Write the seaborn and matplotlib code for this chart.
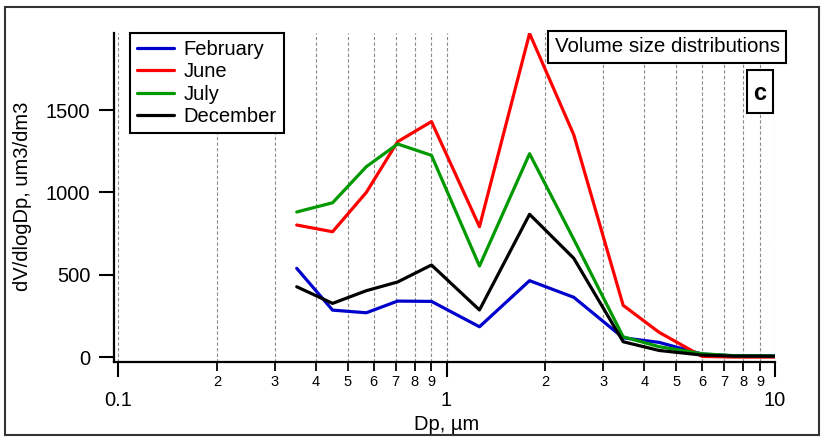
import matplotlib
matplotlib.use("Agg")
import matplotlib.pyplot as plt
from matplotlib.patches import Rectangle
import seaborn as sns
import pandas as pd

# ---- data ----
dp = [0.35, 0.45, 0.57, 0.71, 0.9, 1.26, 1.79, 2.44, 3.45, 4.44, 6.0, 7.5, 10.0]
february = [539, 285, 269, 340, 338, 184, 464, 363, 117, 89, 18, 8, 6]
june = [802, 761, 1000, 1308, 1430, 792, 1965, 1350, 314, 150, 4, 0, 0]
july = [881, 937, 1156, 1294, 1225, 553, 1235, 715, 123, 63, 20, 8, 6]
december = [427, 326, 403, 456, 559, 286, 867, 600, 93, 40, 12, 6, 5]
months = ["February", "June", "July", "December"]
colors = {"February": "#0000CC", "June": "#FF0000", "July": "#009900", "December": "#000000"}
major_ticks = [0.1, 1, 10]
major_labels = ["0.1", "1", "10"]
minor_ticks = [0.2, 0.3, 0.4, 0.5, 0.6, 0.7, 0.8, 0.9, 2, 3, 4, 5, 6, 7, 8, 9]
minor_labels = ["2", "3", "4", "5", "6", "7", "8", "9", "2", "3", "4", "5", "6", "7", "8", "9"]
y_ticks = [0, 500, 1000, 1500]

series = {"February": february, "June": june, "July": july, "December": december}
df = pd.concat([pd.DataFrame({"Dp": dp, "value": v, "month": m}) for m, v in series.items()],
               ignore_index=True)

sns.set_style("white")
plt.rcParams["font.family"] = ["Liberation Sans", "DejaVu Sans"]
plt.rcParams.update({"text.color": "black", "axes.labelcolor": "black",
                     "xtick.color": "black", "ytick.color": "black"})

W, H = 821, 438
fig = plt.figure(figsize=(W / 100, H / 100), dpi=100)
ax = fig.add_axes([114 / W, 1 - 362 / H, (775 - 114) / W, (362 - 33) / H])

sns.lineplot(data=df, x="Dp", y="value", hue="month", hue_order=months, palette=colors,
             sort=False, linewidth=2.3, ax=ax, legend=True)

ax.set_xscale("log")
ax.set_xlim(10 ** (-1 - 4 / 328.5), 10)
ax.set_ylim(-30, 1968)

ax.set_xticks(major_ticks, labels=major_labels)
ax.set_xticks(minor_ticks, labels=minor_labels, minor=True)
ax.set_yticks(y_ticks, labels=[str(t) for t in y_ticks])

ax.tick_params(axis="x", which="major", direction="out", length=11, width=1.5, pad=10,
               labelsize=14.5, bottom=True, colors="black")
ax.tick_params(axis="x", which="minor", direction="out", length=6.5, width=1.3, pad=3,
               labelsize=10.5, bottom=True, colors="black")
ax.tick_params(axis="y", which="major", direction="out", length=11, width=1.5, pad=6,
               labelsize=14.5, left=True, colors="black")

for s in ["top", "right"]:
    ax.spines[s].set_visible(False)
for s in ["left", "bottom"]:
    ax.spines[s].set_linewidth(1.6)
    ax.spines[s].set_color("black")

ax.grid(False)
ax.grid(True, which="both", axis="x", linestyle=(0, (3, 2)), color="#8a8a8a", linewidth=0.8)

ax.set_xlabel("")
ax.set_ylabel("")
fig.text(447 / W, 1 - 424 / H, "Dp, µm", ha="center", va="center", fontsize=14.5)
fig.text(22 / W, 1 - 196 / H, "dV/dlogDp, um3/dm3", ha="center", va="center",
         rotation=90, fontsize=14.5)

leg = ax.legend(loc="upper left", bbox_to_anchor=(130 / W, 1 - 33 / H),
                bbox_transform=fig.transFigure, borderaxespad=0, frameon=True,
                fancybox=False, edgecolor="black", framealpha=1, fontsize=14.5,
                handlelength=1.85, handletextpad=0.45, labelspacing=0.17, borderpad=0.35,
                title=None)
leg.get_frame().set_linewidth(1.5)
for h in leg.get_lines():
    h.set_linewidth(2.3)

# annotation boxes
def fig_box(x0, y0, x1, y1, **kw):
    r = Rectangle((x0 / W, 1 - y1 / H), (x1 - x0) / W, (y1 - y0) / H,
                  transform=fig.transFigure, **kw)
    fig.add_artist(r)

fig_box(548, 31, 786, 63, facecolor="white", edgecolor="black", linewidth=1.5, zorder=3)
fig.text(667 / W, 1 - 47 / H, "Volume size distributions", ha="center", va="center",
         fontsize=14.8, zorder=4)
fig_box(747, 70, 773, 113, facecolor="white", edgecolor="black", linewidth=1.5, zorder=3)
fig.text(760 / W, 1 - 93 / H, "c", ha="center", va="center", fontsize=17,
         fontweight="bold", zorder=4)

# outer frame
fig_box(5, 7, 819, 435, fill=False, edgecolor="#333333", linewidth=1.5, zorder=5)

fig.savefig("out.png", dpi=100)
